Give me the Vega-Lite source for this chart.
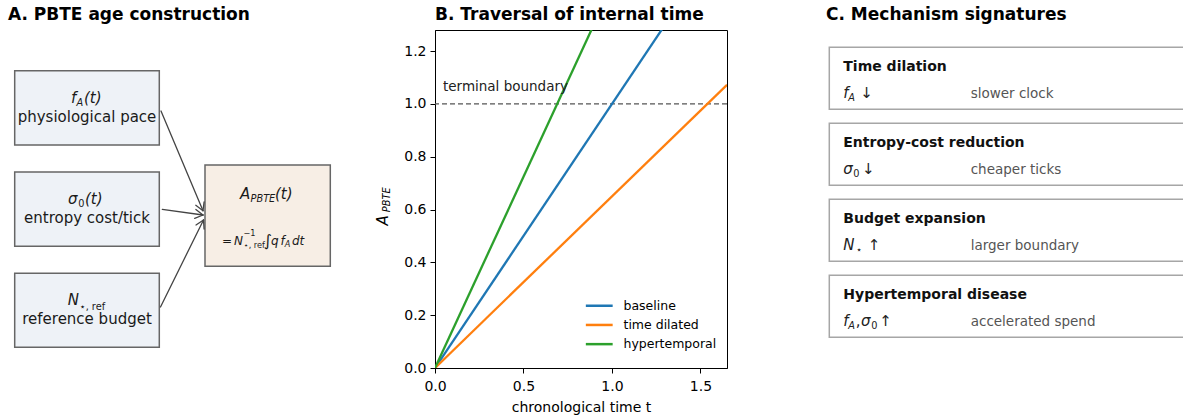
{
  "$schema": "https://vega.github.io/schema/vega-lite/v6.json",
  "padding": {"left": 8, "top": 5, "right": 0, "bottom": 0},
  "bounds": "flush",
  "spacing": 99,
  "datasets": {
    "boxesA": [
      {"box": "physiological pace", "kind": "input", "x": 0.67, "x2": 15.13, "y": 4.07, "y2": 11.5},
      {"box": "entropy cost", "kind": "input", "x": 0.67, "x2": 15.13, "y": 14.2, "y2": 21.63},
      {"box": "reference budget", "kind": "input", "x": 0.67, "x2": 15.13, "y": 24.33, "y2": 31.73},
      {"box": "PBTE age", "kind": "output", "x": 19.7, "x2": 32.23, "y": 13.5, "y2": 23.63}
    ],
    "arrowsA": [
      {"from": "pace", "part": "shaft", "x": 15.3, "y": 8.1, "x2": 19.5, "y2": 18.07},
      {"from": "pace", "part": "head", "x": 19.5, "y": 18.07, "x2": 19.61, "y2": 17.18},
      {"from": "pace", "part": "head", "x": 19.5, "y": 18.07, "x2": 18.78, "y2": 17.53},
      {"from": "cost", "part": "shaft", "x": 15.43, "y": 17.93, "x2": 19.5, "y2": 18.5},
      {"from": "cost", "part": "head", "x": 19.5, "y": 18.5, "x2": 18.79, "y2": 17.95},
      {"from": "cost", "part": "head", "x": 19.5, "y": 18.5, "x2": 18.67, "y2": 18.84},
      {"from": "budget", "part": "shaft", "x": 15.25, "y": 27.7, "x2": 19.55, "y2": 19.0},
      {"from": "budget", "part": "head", "x": 19.55, "y": 19.0, "x2": 18.8, "y2": 19.5},
      {"from": "budget", "part": "head", "x": 19.55, "y": 19.0, "x2": 19.61, "y2": 19.9}
    ],
    "labelsA": [
      {"text": "physiological pace", "x": 7.9, "y": 9.2},
      {"text": "entropy cost/tick", "x": 7.9, "y": 19.3},
      {"text": "reference budget", "x": 7.9, "y": 29.4}
    ],
    "mathA": [
      {"text": "f", "kind": "variable", "level": "base", "x": 6.3, "y": 7.3},
      {"text": "A", "kind": "variable", "level": "sub", "x": 6.85, "y": 7.55},
      {"text": "(t)", "kind": "variable", "level": "base", "x": 7.6, "y": 7.3},
      {"text": "σ", "kind": "variable", "level": "base", "x": 6.0, "y": 17.4},
      {"text": "0", "kind": "symbol", "level": "sub", "x": 7.02, "y": 17.65},
      {"text": "(t)", "kind": "variable", "level": "base", "x": 7.7, "y": 17.4},
      {"text": "N", "kind": "variable", "level": "base", "x": 5.97, "y": 27.5},
      {"text": "⋆, ref", "kind": "symbol", "level": "sub", "x": 7.15, "y": 27.95},
      {"text": "A", "kind": "variable", "level": "base", "x": 23.2, "y": 16.9},
      {"text": "PBTE", "kind": "variable", "level": "sub", "x": 24.25, "y": 17.15},
      {"text": "(t)", "kind": "variable", "level": "base", "x": 26.7, "y": 16.9},
      {"text": "=", "kind": "symbol", "level": "eq", "x": 21.4, "y": 21.47},
      {"text": "N", "kind": "variable", "level": "eq", "x": 22.6, "y": 21.47},
      {"text": "−1", "kind": "symbol", "level": "eqsub", "x": 23.55, "y": 20.6},
      {"text": "⋆, ref", "kind": "symbol", "level": "eqsub", "x": 23.55, "y": 21.8},
      {"text": "∫", "kind": "symbol", "level": "int", "x": 25.55, "y": 21.55},
      {"text": "q", "kind": "variable", "level": "eq", "x": 26.3, "y": 21.47},
      {"text": "f", "kind": "variable", "level": "eq", "x": 27.25, "y": 21.47},
      {"text": "A", "kind": "variable", "level": "eqsub", "x": 27.68, "y": 21.7},
      {"text": "dt", "kind": "variable", "level": "eq", "x": 28.4, "y": 21.47}
    ],
    "trajectories": [
      {"scenario": "baseline", "t": 0, "A": 0},
      {"scenario": "baseline", "t": 1.65, "A": 1.65},
      {"scenario": "time dilated", "t": 0, "A": 0},
      {"scenario": "time dilated", "t": 1.65, "A": 1.0725},
      {"scenario": "hypertemporal", "t": 0, "A": 0},
      {"scenario": "hypertemporal", "t": 1.65, "A": 2.39}
    ],
    "boundary": [{"A": 1.0, "label": "terminal boundary"}],
    "ytitle": [
      {"text": "A", "level": "base", "t": -0.2656, "A": 0.5395},
      {"text": "PBTE", "level": "sub", "t": -0.2515, "A": 0.59}
    ],
    "boxesC": [
      {"mechanism": "Time dilation", "x": 0.33, "x2": 40, "y": 1.73, "y2": 7.93},
      {"mechanism": "Entropy-cost reduction", "x": 0.33, "x2": 40, "y": 9.33, "y2": 15.53},
      {"mechanism": "Budget expansion", "x": 0.33, "x2": 40, "y": 16.93, "y2": 23.13},
      {"mechanism": "Hypertemporal disease", "x": 0.33, "x2": 40, "y": 24.53, "y2": 30.73}
    ],
    "headC": [
      {"text": "Time dilation", "x": 1.73, "y": 4.07},
      {"text": "Entropy-cost reduction", "x": 1.73, "y": 11.67},
      {"text": "Budget expansion", "x": 1.73, "y": 19.27},
      {"text": "Hypertemporal disease", "x": 1.73, "y": 26.87}
    ],
    "descC": [
      {"text": "slower clock", "x": 14.47, "y": 6.8},
      {"text": "cheaper ticks", "x": 14.47, "y": 14.4},
      {"text": "larger boundary", "x": 14.47, "y": 22.0},
      {"text": "accelerated spend", "x": 14.47, "y": 29.6}
    ],
    "mathC": [
      {"text": "f", "kind": "variable", "level": "base", "x": 1.72, "y": 6.8},
      {"text": "A", "kind": "variable", "level": "sub", "x": 2.23, "y": 7.05},
      {"text": "↓", "kind": "symbol", "level": "base", "x": 3.43, "y": 6.8},
      {"text": "σ", "kind": "variable", "level": "base", "x": 1.72, "y": 14.4},
      {"text": "0", "kind": "symbol", "level": "sub", "x": 2.73, "y": 14.65},
      {"text": "↓", "kind": "symbol", "level": "base", "x": 3.6, "y": 14.4},
      {"text": "N", "kind": "variable", "level": "base", "x": 1.72, "y": 22.0},
      {"text": "⋆", "kind": "symbol", "level": "sub", "x": 3.0, "y": 22.25},
      {"text": "↑", "kind": "symbol", "level": "base", "x": 4.17, "y": 22.0},
      {"text": "f", "kind": "variable", "level": "base", "x": 1.72, "y": 29.6},
      {"text": "A", "kind": "variable", "level": "sub", "x": 2.23, "y": 29.85},
      {"text": ",", "kind": "symbol", "level": "base", "x": 2.98, "y": 29.6},
      {"text": "σ", "kind": "variable", "level": "base", "x": 3.5, "y": 29.6},
      {"text": "0", "kind": "symbol", "level": "sub", "x": 4.53, "y": 29.85},
      {"text": "↑", "kind": "symbol", "level": "base", "x": 5.32, "y": 29.6}
    ]
  },
  "config": {
    "font": "DejaVu Sans",
    "view": {"stroke": null},
    "title": {"anchor": "start", "frame": "group", "fontSize": 17, "fontWeight": "bold", "color": "black", "baseline": "alphabetic", "offset": 6},
    "axis": {
      "domainColor": "black", "domainWidth": 1, "tickColor": "black", "tickWidth": 1, "tickSize": 5,
      "labelColor": "black", "labelFontSize": 14, "labelPadding": 4, "labelFlush": false,
      "titleFontSize": 14, "titleFontWeight": "normal", "titleColor": "black", "titlePadding": 6,
      "grid": false, "labelFont": "DejaVu Sans", "titleFont": "DejaVu Sans"
    },
    "axisX": {"labelPadding": 6, "titlePadding": 7}
  },
  "hconcat": [
    {
      "width": 328, "height": 338,
      "title": {"text": "A. PBTE age construction"},
      "layer": [
        {
          "data": {"name": "boxesA"},
          "mark": {"type": "rect", "stroke": "#666666", "strokeWidth": 1.5},
          "encoding": {
            "x": {"field": "x", "type": "quantitative", "scale": {"domain": [0, 32.8], "nice": false, "zero": false}, "axis": null},
            "x2": {"field": "x2"},
            "y": {"field": "y", "type": "quantitative", "scale": {"domain": [0, 33.8], "nice": false, "zero": false, "reverse": true}, "axis": null},
            "y2": {"field": "y2"},
            "fill": {"field": "kind", "type": "nominal", "scale": {"domain": ["input", "output"], "range": ["#eef2f7", "#f7eee5"]}, "legend": null}
          }
        },
        {
          "data": {"name": "arrowsA"},
          "mark": {"type": "rule", "color": "#444444", "strokeWidth": 1.3, "strokeCap": "round"},
          "encoding": {
            "x": {"field": "x", "type": "quantitative"},
            "y": {"field": "y", "type": "quantitative"},
            "x2": {"field": "x2"},
            "y2": {"field": "y2"}
          }
        },
        {
          "data": {"name": "labelsA"},
          "mark": {"type": "text", "align": "center", "baseline": "alphabetic", "fontSize": 15, "color": "#1a1a1a"},
          "encoding": {
            "x": {"field": "x", "type": "quantitative"},
            "y": {"field": "y", "type": "quantitative"},
            "text": {"field": "text"}
          }
        },
        {
          "data": {"name": "mathA"},
          "transform": [{"filter": "datum.kind == 'variable'"}],
          "mark": {"type": "text", "align": "left", "baseline": "alphabetic", "fontStyle": "italic", "color": "#1a1a1a"},
          "encoding": {
            "x": {"field": "x", "type": "quantitative"},
            "y": {"field": "y", "type": "quantitative"},
            "text": {"field": "text"},
            "size": {"field": "level", "type": "ordinal", "scale": {"type": "ordinal", "domain": ["base", "sub", "eq", "eqsub", "int"], "range": [15, 9.8, 12, 8.2, 16]}, "legend": null}
          }
        },
        {
          "data": {"name": "mathA"},
          "transform": [{"filter": "datum.kind == 'symbol'"}],
          "mark": {"type": "text", "align": "left", "baseline": "alphabetic", "color": "#1a1a1a"},
          "encoding": {
            "x": {"field": "x", "type": "quantitative"},
            "y": {"field": "y", "type": "quantitative"},
            "text": {"field": "text"},
            "size": {"field": "level", "type": "ordinal", "scale": {"type": "ordinal", "domain": ["base", "sub", "eq", "eqsub", "int"], "range": [15, 9.8, 12, 8.2, 16]}, "legend": null}
          }
        }
      ]
    },
    {
      "width": 292, "height": 338,
      "view": {"stroke": "black", "strokeWidth": 1},
      "title": {"text": "B. Traversal of internal time"},
      "layer": [
        {
          "data": {"name": "boundary"},
          "mark": {"type": "rule", "color": "#555555", "strokeWidth": 1.2, "strokeDash": [5, 3]},
          "encoding": {
            "y": {"field": "A", "type": "quantitative"}
          }
        },
        {
          "data": {"name": "trajectories"},
          "mark": {"type": "line", "strokeWidth": 2.3, "clip": true},
          "encoding": {
            "x": {"field": "t", "type": "quantitative", "scale": {"domain": [0, 1.65], "nice": false, "zero": false},
                  "axis": {"values": [0, 0.5, 1, 1.5], "format": ".1f", "title": "chronological time t"}},
            "y": {"field": "A", "type": "quantitative", "scale": {"domain": [0, 1.28], "nice": false, "zero": false},
                  "axis": {"values": [0, 0.2, 0.4, 0.6, 0.8, 1.0, 1.2], "format": ".1f", "title": null}},
            "color": {
              "field": "scenario", "type": "nominal",
              "scale": {"domain": ["baseline", "time dilated", "hypertemporal"], "range": ["#1f77b4", "#ff7f0e", "#2ca02c"]},
              "legend": {
                "title": null, "orient": "none", "legendX": 585, "legendY": 269.5,
                "symbolType": "M-4,0H4", "symbolSize": 45, "symbolStrokeWidth": 2.5,
                "labelFontSize": 12.5, "labelOffset": 18, "rowPadding": 6.2, "padding": 0,
                "labelColor": "black", "labelFont": "DejaVu Sans"
              }
            }
          }
        },
        {
          "data": {"name": "boundary"},
          "mark": {"type": "text", "align": "left", "baseline": "alphabetic", "fontSize": 13.5, "color": "#222222", "dy": -13},
          "encoding": {
            "x": {"datum": 0.045},
            "y": {"field": "A", "type": "quantitative"},
            "text": {"field": "label"}
          }
        },
        {
          "data": {"name": "ytitle"},
          "mark": {"type": "text", "align": "left", "baseline": "alphabetic", "angle": 270, "fontStyle": "italic", "color": "black"},
          "encoding": {
            "x": {"field": "t", "type": "quantitative"},
            "y": {"field": "A", "type": "quantitative"},
            "text": {"field": "text"},
            "size": {"field": "level", "type": "ordinal", "scale": {"type": "ordinal", "domain": ["base", "sub"], "range": [14, 9.8]}, "legend": null}
          }
        }
      ]
    },
    {
      "width": 357, "height": 338,
      "title": {"text": "C. Mechanism signatures"},
      "layer": [
        {
          "data": {"name": "boxesC"},
          "mark": {"type": "rect", "fill": "white", "stroke": "#a6a6a6", "strokeWidth": 1.5, "clip": true},
          "encoding": {
            "x": {"field": "x", "type": "quantitative", "scale": {"domain": [0, 35.7], "nice": false, "zero": false}, "axis": null},
            "x2": {"field": "x2"},
            "y": {"field": "y", "type": "quantitative", "scale": {"domain": [0, 33.8], "nice": false, "zero": false, "reverse": true}, "axis": null},
            "y2": {"field": "y2"}
          }
        },
        {
          "data": {"name": "headC"},
          "mark": {"type": "text", "align": "left", "baseline": "alphabetic", "fontSize": 14, "fontWeight": "bold", "color": "#111111"},
          "encoding": {
            "x": {"field": "x", "type": "quantitative"},
            "y": {"field": "y", "type": "quantitative"},
            "text": {"field": "text"}
          }
        },
        {
          "data": {"name": "descC"},
          "mark": {"type": "text", "align": "left", "baseline": "alphabetic", "fontSize": 13.5, "color": "#555555"},
          "encoding": {
            "x": {"field": "x", "type": "quantitative"},
            "y": {"field": "y", "type": "quantitative"},
            "text": {"field": "text"}
          }
        },
        {
          "data": {"name": "mathC"},
          "transform": [{"filter": "datum.kind == 'variable'"}],
          "mark": {"type": "text", "align": "left", "baseline": "alphabetic", "fontStyle": "italic", "color": "#222222"},
          "encoding": {
            "x": {"field": "x", "type": "quantitative"},
            "y": {"field": "y", "type": "quantitative"},
            "text": {"field": "text"},
            "size": {"field": "level", "type": "ordinal", "scale": {"type": "ordinal", "domain": ["base", "sub"], "range": [14, 10]}, "legend": null}
          }
        },
        {
          "data": {"name": "mathC"},
          "transform": [{"filter": "datum.kind == 'symbol'"}],
          "mark": {"type": "text", "align": "left", "baseline": "alphabetic", "color": "#222222"},
          "encoding": {
            "x": {"field": "x", "type": "quantitative"},
            "y": {"field": "y", "type": "quantitative"},
            "text": {"field": "text"},
            "size": {"field": "level", "type": "ordinal", "scale": {"type": "ordinal", "domain": ["base", "sub"], "range": [14, 10]}, "legend": null}
          }
        }
      ]
    }
  ]
}
